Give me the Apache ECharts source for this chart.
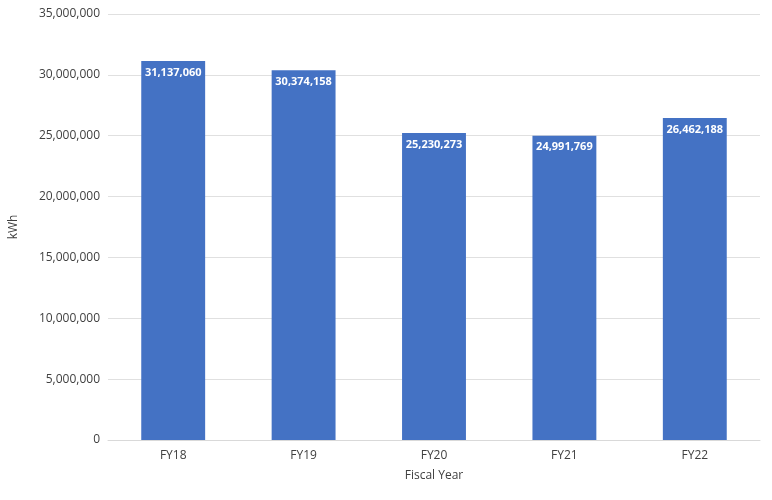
<!DOCTYPE html>
<html lang="en">
<head>
<meta charset="UTF-8">
<title>kWh by Fiscal Year</title>
<script src="https://cdn.jsdelivr.net/npm/echarts@6/dist/echarts.min.js"></script>
</head>
<body style="margin:0">
<div id="chart" style="width:772px;height:500px"></div>
<script>
var years = ['FY18', 'FY19', 'FY20', 'FY21', 'FY22'];
var kwh = [31137060, 30374158, 25230273, 24991769, 26462188];

var chart = echarts.init(document.getElementById('chart'));
var fmt = function (v) { return v.toLocaleString('en-US'); };
chart.setOption({
    textStyle: { fontFamily: 'Open Sans' },
    grid: { left: 108, right: 12, top: 14, bottom: 60 },
    xAxis: {
        type: 'category',
        data: years,
        name: 'Fiscal Year',
        nameLocation: 'middle',
        nameGap: 30,
        nameTextStyle: { color: '#404040', fontSize: 12 },
        axisTick: { show: false },
        axisLine: { lineStyle: { color: '#d9d9d9' } },
        axisLabel: { color: '#404040', fontSize: 12, margin: 10 }
    },
    yAxis: {
        type: 'value',
        min: 0,
        max: 35000000,
        interval: 5000000,
        name: 'kWh',
        nameLocation: 'middle',
        nameGap: 88,
        nameTextStyle: { color: '#404040', fontSize: 12 },
        axisLabel: { color: '#404040', fontSize: 12, formatter: fmt },
        splitLine: { lineStyle: { color: '#e0e0e0' } }
    },
    series: [{
        type: 'bar',
        data: kwh,
        barWidth: '49%',
        itemStyle: { color: '#4472c4' },
        label: {
            show: true,
            position: 'insideTop',
            color: '#fff',
            fontWeight: 'bold',
            fontSize: 11,
            distance: 6,
            formatter: function (p) { return fmt(p.value); }
        }
    }]
});
</script>
</body>
</html>
